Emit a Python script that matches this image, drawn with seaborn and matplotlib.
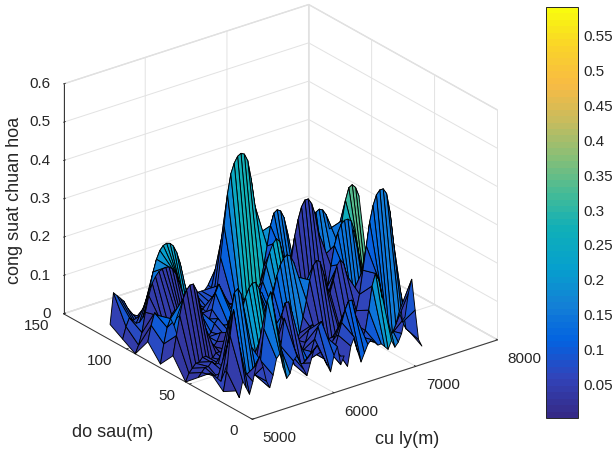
import numpy as np
import matplotlib
matplotlib.use("Agg")
import matplotlib.pyplot as plt
from matplotlib.colors import ListedColormap, Normalize
from matplotlib.cm import ScalarMappable
import seaborn as sns

distance_m = np.linspace(5000, 7275, 56)
depth_m = np.array([13, 23, 33, 43, 53, 63, 73, 83, 93, 103, 113])

r00 = [.05,.03,.07,.05,.03,.06,.10,.12, .09,.05,.03,.06,.10,.11,.07,.04, .05,.08,.09,.07,.05,.03,.06,.09,
       .10,.08,.06,.04,.02,.06,.08,.03, .05,.02,.07,.09,.05,.02,.04,.06, .07,.06,.05,.05,.04,.03,.05,.03, .04,.06,.10,.16,.193,.11,.03,.01]
r01 = [.03,.08,.17,.235,.17,.08,.05,.04, .04,.05,.04,.08,.16,.23,.25,.20, .12,.10,.17,.13,.07,.04,.04,.03,
       .04,.04,.06,.09,.12,.13,.09,.05, .03,.05,.08,.11,.14,.16,.16,.12, .06,.05,.07,.12,.18,.21,.19,.14, .09,.05,.04,.06,.09,.06,.04,.03]
r02 = [.06,.05,.04,.03,.05,.12,.20,.25, .257,.24,.19,.11,.05,.04,.04,.05, .05,.04,.05,.07,.11,.15,.18,.18,
       .15,.09,.05,.04,.06,.09,.10,.07, .04,.05,.05,.04,.04,.05,.06,.04, .04,.05,.07,.10,.14,.20,.26,.32, .36,.385,.395,.395,.38,.33,.25,.16]
r03 = [.03,.04,.05,.05,.06,.05,.05,.04, .05,.04,.06,.09,.13,.17,.20,.22, .23,.23,.21,.17,.12,.08,.05,.04,
       .05,.07,.06,.05,.05,.04,.06,.10, .14,.19,.225,.235,.23,.20,.16,.14, .17,.205,.217,.205,.17,.11,.06,.04, .03,.04,.05,.05,.06,.05,.05,.04]
r04 = [.00,.02,.03,.04,.04,.05,.05,.04, .04,.05,.05,.04,.05,.07,.09,.08, .06,.05,.04,.03,.05,.05,.05,.06,
       .08,.12,.16,.20,.225,.24,.246,.24, .22,.18,.13,.09,.06,.05,.05,.05, .06,.08,.13,.18,.23,.26,.28,.288, .288,.28,.25,.20,.14,.09,.06,.05]
r05 = [.05,.10,.15,.19,.21,.22,.22,.20, .16,.11,.07,.05,.04,.05,.07,.06, .05,.06,.08,.07,.05,.06,.08,.09,
       .07,.05,.04,.05,.05,.06,.05,.05, .06,.09,.14,.20,.26,.30,.33,.345, .345,.33,.30,.25,.18,.11,.06,.07, .13,.20,.26,.31,.34,.345,.335,.31]
r06 = [.01,.06,.10,.12,.10,.07,.05,.04, .06,.04,.03,.04,.06,.05,.04,.05, .07,.08,.06,.05,.06,.08,.07,.05,
       .04,.05,.07,.09,.11,.12,.11,.08, .06,.05,.04,.05,.04,.05,.05,.05, .06,.10,.15,.20,.24,.265,.275,.28, .275,.26,.22,.16,.10,.06,.04,.03]
r07 = [.05,.09,.12,.11,.09,.07,.08,.10, .11,.10,.08,.06,.05,.06,.08,.09, .08,.06,.05,.08,.12,.14,.12,.08,
       .05,.04,.05,.05,.05,.05,.05,.05, .06,.08,.11,.15,.18,.20,.21,.20, .16,.10,.06,.05,.05,.05,.05,.05, .05,.06,.08,.09,.07,.04,.03,.03]
r08 = [.00,.02,.05,.10,.14,.17,.185,.195, .198,.20,.198,.19,.175,.15,.11,.07, .05,.04,.04,.05,.06,.05,.04,.05,
       .06,.05,.05,.05,.05,.05,.05,.05, .05,.05,.05,.05,.06,.08,.12,.17, .22,.25,.256,.25,.23,.19,.13,.08, .05,.04,.04,.03,.03,.02,.02,.02]
r09 = [.02,.05,.07,.06,.05,.05,.06,.09, .13,.17,.20,.22,.23,.233,.23,.22, .20,.17,.12,.08,.05,.05,.04,.04,
       .03,.03,.04,.05,.08,.15,.23,.31, .36,.385,.40,.405,.40,.38,.33,.26, .18,.10,.06,.05,.04,.04,.03,.03, .03,.02,.02,.02,.02,.02,.02,.02]
r10 = [.04,.12,.11,.10,.09,.07,.05,.03, .01,.02,.04,.03,.05,.05,.06,.06, .06,.05,.05,.05,.05,.05,.05,.05,
       .05,.05,.05,.05,.05,.06,.05,.05, .05,.05,.05,.05,.06,.09,.14,.19, .22,.23,.23,.21,.18,.14,.10,.07, .05,.04,.03,.03,.02,.02,.02,.02]
power = [r00, r01, r02, r03, r04, r05, r06, r07, r08, r09, r10]

# colour gain of the face rising to each ridge row r01..r10, one entry per block of 8 columns
tone = [
    [.15, .70, .45, .45, .50, .95, .60],
    [.45, .45, .15, .50, .50, .30, .30],
    [.50, .90, .90, .30, .10, .10, .80],
    [.50, .50, .50, .50, .50, .40, .40],
    [.03, .03, .50, .50, .05, .05, .90],
    [.90, .70, .70, .70, .70, .42, .42],
    [.70, .70, .70, .70, 1.0, 1.0, .70],
    [.08, .08, .70, .70, .45, .45, .50],
    [.70, .85, .85, .50, .60, .60, .80],
    [.50, .90, 1.0, 1.0, 1.2, 1.3, 1.0],
]

x_ticks = [5000, 6000, 7000, 8000]
y_ticks = [0, 50, 100, 150]
z_ticks = [0, 0.1, 0.2, 0.3, 0.4, 0.5, 0.6]
z_labels = ["0", "0.1", "0.2", "0.3", "0.4", "0.5", "0.6"]
cb_ticks = [0.05, 0.1, 0.15, 0.2, 0.25, 0.3, 0.35, 0.4, 0.45, 0.5, 0.55]
cb_labels = ["0.05", "0.1", "0.15", "0.2", "0.25", "0.3", "0.35", "0.4", "0.45", "0.5", "0.55"]

parula_stops = [(0.2081,0.1663,0.5292),(0.1959,0.2645,0.7279),(0.0117,0.3875,0.8820),(0.0779,0.5040,0.8384),
                (0.0239,0.6287,0.8038),(0.0590,0.6838,0.7254),(0.2586,0.7317,0.5954),(0.5300,0.7491,0.4661),
                (0.7858,0.7356,0.3633),(0.9739,0.7314,0.2666),(0.9789,0.8271,0.1633),(0.9763,0.9831,0.0538)]

sns.set_theme(style="white", rc={"axes.facecolor": "white", "figure.facecolor": "white"})
plt.rcParams["font.family"] = ["Liberation Sans", "DejaVu Sans"]
text_c = "#262626"

cmap = ListedColormap(sns.blend_palette(parula_stops, n_colors=64))
norm = Normalize(0.0, 0.59)

Z = np.array(power)
gain = np.repeat(np.array(tone), 8, axis=1)
# each facet takes the colour of its first-index corner, so it is fed from the ridge behind it
C = np.vstack([gain * Z[1:] + 0.03, Z[-1:]])
X, Y = np.meshgrid(distance_m, depth_m)

fig = plt.figure(figsize=(6.12, 4.52), dpi=100)
ax = fig.add_axes([-1 / 612, 7 / 452, 0.9, 1.0], projection="3d", proj_type="ortho")
ax.view_init(elev=25.17, azim=-127.28)
ax.set_box_aspect((307, 310.6, 253), zoom=1.088)
ax.plot_surface(X, Y, Z, facecolors=cmap(norm(C)), rstride=1, cstride=1, shade=False,
                edgecolor="black", linewidth=0.65, antialiased=True)
ax.set_xlim(5000, 8000, view_margin=0)
ax.set_ylim(0, 150, view_margin=0)
ax.set_zlim(0, 0.6, view_margin=0)
ax.set_xticks(x_ticks)
ax.set_yticks(y_ticks)
ax.set_zticks(z_ticks)
ax.set_zticklabels(z_labels)
ax.tick_params(labelsize=11, colors=text_c)
ax.tick_params(axis="x", pad=1)
ax.tick_params(axis="y", pad=2)
ax.tick_params(axis="z", pad=-3)
for a in (ax.xaxis, ax.yaxis, ax.zaxis):
    a.set_pane_color((1, 1, 1, 1))
    a.pane.set_edgecolor("#dcdcdc")
    a._axinfo["grid"].update(color="#e2e2e2", linewidth=0.7)
    a.line.set_color("#333333")
    a.line.set_linewidth(0.7)
    a._axinfo["tick"].update(color="#333333", inward_factor=0.0, outward_factor=0.1,
                             linewidth={True: 0.6, False: 0.6})
ax.grid(True)
for lab in ax.get_xticklabels():
    lab.set_ha("left")
    lab.set_va("center")
for lab in ax.get_yticklabels():
    lab.set_ha("right")
    lab.set_va("bottom")
for lab in ax.get_zticklabels():
    lab.set_ha("right")
    lab.set_va("center")

fig.text(113 / 612, 1 - 433 / 452, "do sau(m)", fontsize=13, color=text_c, ha="center", va="center")
fig.text(407 / 612, 1 - 440 / 452, "cu ly(m)", fontsize=13, color=text_c, ha="center", va="center")
fig.text(15 / 612, 1 - 200 / 452, "cong suat chuan hoa", fontsize=13, color=text_c, rotation=90, ha="center", va="center")

cax = fig.add_axes([546 / 612, 1 - 419 / 452, 32 / 612, 411 / 452])
cb = fig.colorbar(ScalarMappable(norm=norm, cmap=cmap), cax=cax, ticks=cb_ticks)
cb.set_ticklabels(cb_labels)
cb.ax.tick_params(direction="in", length=4, width=0.6, labelsize=11, colors=text_c, pad=4, right=True)
cb.outline.set_edgecolor("#262626")
cb.outline.set_linewidth(0.7)

fig.savefig("out.png", dpi=100)
